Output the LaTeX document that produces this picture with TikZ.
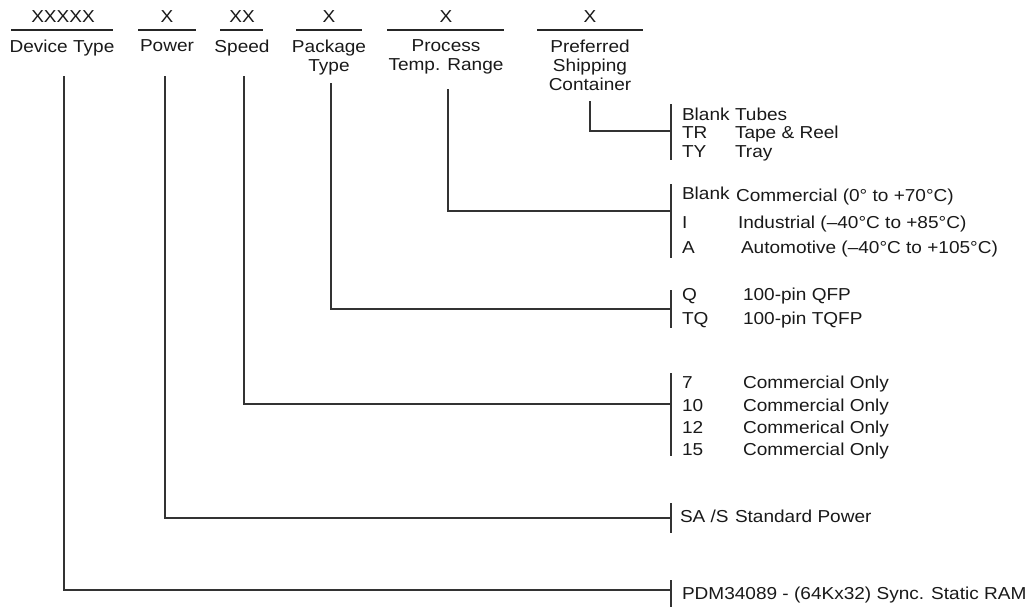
\documentclass[tikz,border=0pt]{standalone}
\usepackage{fontspec}
\setmainfont{Liberation Sans}[FakeStretch=1.1]
\begin{document}
\begin{tikzpicture}[x=1pt,y=-1pt,
  every node/.style={inner sep=0pt, outer sep=0pt, font=\fontsize{17.3}{19}\selectfont, text=black!90},
  hdr/.style={anchor=north, align=center},
  lbl/.style={anchor=base},
  code/.style={anchor=base west},
  desc/.style={anchor=base west},
  conn/.style={draw=black!80, line width=1.2pt},
  brk/.style={draw=black!80, line width=1.2pt},
  hrule/.style={draw=black!85, line width=2.2pt}]
\useasboundingbox (0,0) rectangle (1032,610);

% ---------- header ----------
\node[lbl] (c1) at (63,23) {XXXXX};
\node[lbl] (c2) at (167,23) {X};
\node[lbl] (c3) at (242,23) {XX};
\node[lbl] (c4) at (329,23) {X};
\node[lbl] (c5) at (446,23) {X};
\node[lbl] (c6) at (590,23) {X};

\draw[hrule] (11,30) -- (113,30);
\draw[hrule] (138,30) -- (196,30);
\draw[hrule] (220,30) -- (263,30);
\draw[hrule] (296,30) -- (362,30);
\draw[hrule] (387,30) -- (504,30);
\draw[hrule] (537,30) -- (643,30);

\node[hdr] (h1) at (62,40) {Device Type};
\node[hdr] (h2) at (167,40) {Power};
\node[hdr] (h3) at (242,40) {Speed};
\node[hdr] (h4) at (329,40) {Package\\Type};
\node[hdr] (h5) at (446,40) {Process\\Temp. Range};
\node[hdr] (h6) at (590,40) {Preferred\\Shipping\\Container};

% ---------- connector tops ----------
\coordinate (v1) at (64,76);
\coordinate (v2) at (165,76);
\coordinate (v3) at (244,76);
\coordinate (v4) at (331,83);
\coordinate (v5) at (448,89);
\coordinate (v6) at (590,101);

% ---------- brackets ----------
\coordinate (b6t) at (671,104); \coordinate (b6b) at (671,160); \coordinate (j6) at (671,131);
\coordinate (b5t) at (671,184); \coordinate (b5b) at (671,258); \coordinate (j5) at (671,211);
\coordinate (b4t) at (671,290); \coordinate (b4b) at (671,328); \coordinate (j4) at (671,309);
\coordinate (b3t) at (671,373); \coordinate (b3b) at (671,456); \coordinate (j3) at (671,404);
\coordinate (b2t) at (671,503); \coordinate (b2b) at (671,533); \coordinate (j2) at (671,518);
\coordinate (b1t) at (671,580); \coordinate (b1b) at (671,607); \coordinate (j1) at (671,590);

\foreach \i in {1,...,6} {
  \draw[brk] (b\i t) -- (b\i b);
  \draw[conn] (v\i) |- (j\i);
}

% ---------- shipping container ----------
\node[code] (s1) at (682,120) {Blank};
\node[desc] (s1d) at (735,120) {Tubes};
\node[code] (s2) at (682,138) {TR};
\node[desc] (s2d) at (735,138) {Tape \& Reel};
\node[code] (s3) at (682,157) {TY};
\node[desc] (s3d) at (735,157) {Tray};

% ---------- temperature ----------
\node[code] (t1) at (682,199) {Blank};
\node[desc] (t1d) at (736,201) {Commercial (0° to +70°C)};
\node[code] (t2) at (682,228) {I};
\node[desc] (t2d) at (738,228) {Industrial (–40°C to +85°C)};
\node[code] (t3) at (682,253) {A};
\node[desc] (t3d) at (741,253) {Automotive (–40°C to +105°C)};

% ---------- package ----------
\node[code] (k1) at (682,300) {Q};
\node[desc] (k1d) at (743,300) {100-pin QFP};
\node[code] (k2) at (682,324) {TQ};
\node[desc] (k2d) at (743,324) {100-pin TQFP};

% ---------- speed ----------
\node[code] (sp1) at (682,388) {7};
\node[desc] (sp1d) at (743,388) {Commercial Only};
\node[code] (sp2) at (682,411) {10};
\node[desc] (sp2d) at (743,411) {Commercial Only};
\node[code] (sp3) at (682,433) {12};
\node[desc] (sp3d) at (743,433) {Commerical Only};
\node[code] (sp4) at (682,455) {15};
\node[desc] (sp4d) at (743,455) {Commercial Only};

% ---------- power ----------
\node[code] (p1) at (680,522) {SA /S};
\node[desc] (p1d) at (735,522) {Standard Power};

% ---------- device ----------
\node[code] (d1) at (682,599) {PDM34089 - (64Kx32) Sync. Static RAM};
\end{tikzpicture}
\end{document}
